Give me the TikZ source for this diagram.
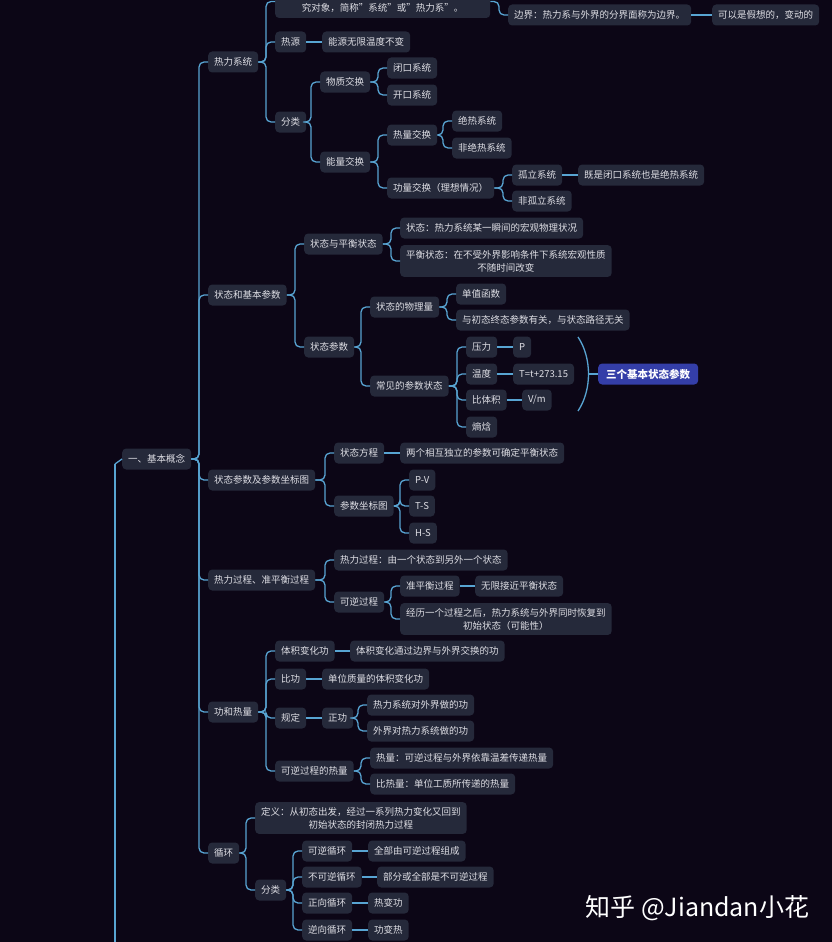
\documentclass[tikz,border=0pt]{standalone}
\usepackage{fontspec}
\setmainfont{Noto Sans CJK SC}
\usepackage{tikz}
\usetikzlibrary{positioning, arrows.meta, calc}
\definecolor{mapbg}{RGB}{12, 6, 22}
\definecolor{mapfill}{RGB}{37, 41, 58}
\definecolor{maptext}{RGB}{222, 222, 228}
\definecolor{mapline}{RGB}{88, 164, 210}
\definecolor{mapblue}{RGB}{52, 62, 168}
\newcommand{\mapfont}{\fontsize{9.5pt}{13pt}\selectfont}
\tikzset{
  topic/.style={
    anchor=west,
    fill=mapfill,
    rounded corners=4pt,
    text=maptext,
    font=\mapfont,
    inner xsep=6pt,
    inner ysep=0pt,
    minimum height=21pt
  },
  twoline/.style={
    align=center,
    inner ysep=5pt
  },
  keytopic/.style={
    topic,
    fill=mapblue,
    text=white,
    font=\fontsize{10.5pt}{13pt}\selectfont\bfseries,
    inner xsep=8pt
  },
  every edge/.style={
    draw=mapline,
    line width=1.3pt,
    rounded corners=5pt
  },
  branch/.style={
    to path={(\tikztostart.east) -| ([xshift=-9pt]\tikztotarget.west) -- (\tikztotarget.west)}
  },
  chain/.style={
    to path={(\tikztostart.east) -- (\tikztotarget.west)}
  }
}

\begin{document}
\begin{tikzpicture}[x=1pt, y=-1pt]
  \useasboundingbox (0,0) rectangle (832,942);
  \clip (0,0) rectangle (832,942);
  \fill[mapbg] (0,0) rectangle (832,942);

  \node[topic] (basic) at (122,459) {一、基本概念};
  \node[topic] (sys) at (208,62) {热力系统};
  \node[topic] (state) at (208,295) {状态和基本参数};
  \node[topic] (chart) at (208,480) {状态参数及参数坐标图};
  \node[topic] (proc) at (208,580) {热力过程、准平衡过程};
  \node[topic] (wq) at (208,712) {功和热量};
  \node[topic] (cyc) at (208,853) {循环};

  \node[topic, anchor=base west, minimum width=215pt, text height=24pt, text depth=3pt, inner ysep=3pt] (sysdef) at (275,12) {究对象，简称"系统"或"热力系"。};
  \node[topic] (bound) at (508,15) {边界：热力系与外界的分界面称为边界。};
  \node[topic] (boundn) at (712,15) {可以是假想的，变动的};
  \node[topic] (src) at (275,42) {热源};
  \node[topic] (srcn) at (322,42) {能源无限温度不变};
  \node[topic] (kind) at (275,122) {分类};
  \node[topic] (mass) at (320,82) {物质交换};
  \node[topic] (closed) at (387,68) {闭口系统};
  \node[topic] (open) at (387,95) {开口系统};
  \node[topic] (energy) at (320,162) {能量交换};
  \node[topic] (heat) at (387,135) {热量交换};
  \node[topic] (adia) at (452,121) {绝热系统};
  \node[topic] (nadia) at (452,148) {非绝热系统};
  \node[topic] (work) at (387,188) {功量交换（理想情况）};
  \node[topic] (iso) at (512,175) {孤立系统};
  \node[topic] (ison) at (578,175) {既是闭口系统也是绝热系统};
  \node[topic] (niso) at (512,201) {非孤立系统};

  \node[topic] (equi) at (304,244) {状态与平衡状态};
  \node[topic] (st) at (400,228) {状态：热力系统某一瞬间的宏观物理状况};
  \node[topic, twoline] (eqst) at (400,261) {平衡状态：在不受外界影响条件下系统宏观性质\\不随时间改变};
  \node[topic] (param) at (304,347) {状态参数};
  \node[topic] (phys) at (370,307) {状态的物理量};
  \node[topic] (single) at (456,294) {单值函数};
  \node[topic] (pathfree) at (456,320) {与初态终态参数有关，与状态路径无关};
  \node[topic] (common) at (370,386) {常见的参数状态};
  \node[topic] (press) at (466,347) {压力};
  \node[topic] (pressv) at (513,347) {P};
  \node[topic] (temp) at (466,374) {温度};
  \node[topic] (tempv) at (513,374) {T=t+273.15};
  \node[topic] (vol) at (466,400) {比体积};
  \node[topic] (volv) at (522,400) {V/m};
  \node[topic] (enth) at (466,427) {熵焓};
  \node[keytopic] (three) at (598,374) {三个基本状态参数};
  \coordinate (bracetip) at (588,374);

  \node[topic] (steq) at (334,453) {状态方程};
  \node[topic] (steqn) at (400,453) {两个相互独立的参数可确定平衡状态};
  \node[topic] (axes) at (334,506) {参数坐标图};
  \node[topic] (pv) at (409,480) {P-V};
  \node[topic] (ts) at (409,506) {T-S};
  \node[topic] (hs) at (409,533) {H-S};

  \node[topic] (tproc) at (334,560) {热力过程：由一个状态到另外一个状态};
  \node[topic] (rev) at (334,602) {可逆过程};
  \node[topic] (quasi) at (400,586) {准平衡过程};
  \node[topic] (quasin) at (475,586) {无限接近平衡状态};
  \node[topic, twoline] (revn) at (400,619) {经历一个过程之后，热力系统与外界同时恢复到\\初始状态（可能性）};

  \node[topic] (volw) at (275,651) {体积变化功};
  \node[topic] (volwn) at (350,651) {体积变化通过边界与外界交换的功};
  \node[topic] (spw) at (275,679) {比功};
  \node[topic] (spwn) at (322,679) {单位质量的体积变化功};
  \node[topic] (rule) at (275,718) {规定};
  \node[topic] (posw) at (322,718) {正功};
  \node[topic] (posa) at (367,705) {热力系统对外界做的功};
  \node[topic] (posb) at (367,731) {外界对热力系统做的功};
  \node[topic] (revq) at (275,771) {可逆过程的热量};
  \node[topic] (revqa) at (370,758) {热量：可逆过程与外界依靠温差传递热量};
  \node[topic] (revqb) at (370,784) {比热量：单位工质所传递的热量};

  \node[topic, twoline] (cdef) at (255,818) {定义：从初态出发，经过一系列热力变化又回到\\初始状态的封闭热力过程};
  \node[topic] (ckind) at (255,890) {分类};
  \node[topic] (cya) at (302,851) {可逆循环};
  \node[topic] (cyan) at (368,851) {全部由可逆过程组成};
  \node[topic] (cyb) at (302,877) {不可逆循环};
  \node[topic] (cybn) at (377,877) {部分或全部是不可逆过程};
  \node[topic] (cyc3) at (302,903) {正向循环};
  \node[topic] (cyc3n) at (368,903) {热变功};
  \node[topic] (cyd) at (302,930) {逆向循环};
  \node[topic] (cydn) at (368,930) {功变热};

  \coordinate (below) at (115,950);
  \node[anchor=west, text=white, font=\fontsize{25pt}{30pt}\selectfont] (mark) at (582,908) {知乎 @Jiandan小花};

  \path (below) edge ([yshift=-5pt]below |- basic.west)
        ([yshift=-5pt]below |- basic.west) edge[rounded corners=0pt] (basic.west);
  \path (basic) edge[branch] (sys) edge[branch] (state) edge[branch] (chart)
                edge[branch] (proc) edge[branch] (wq) edge[branch] (cyc);
  \path (sys) edge[branch] (sysdef) edge[branch] (src) edge[branch] (kind)
        (sysdef) edge[branch] (bound)
        (bound) edge[chain] (boundn)
        (src) edge[chain] (srcn)
        (kind) edge[branch] (mass) edge[branch] (energy)
        (mass) edge[branch] (closed) edge[branch] (open)
        (energy) edge[branch] (heat) edge[branch] (work)
        (heat) edge[branch] (adia) edge[branch] (nadia)
        (work) edge[branch] (iso) edge[branch] (niso)
        (iso) edge[chain] (ison);
  \path (state) edge[branch] (equi) edge[branch] (param)
        (equi) edge[branch] (st) edge[branch] (eqst)
        (param) edge[branch] (phys) edge[branch] (common)
        (phys) edge[branch] (single) edge[branch] (pathfree)
        (common) edge[branch] (press) edge[branch] (temp) edge[branch] (vol) edge[branch] (enth)
        (press) edge[chain] (pressv)
        (temp) edge[chain] (tempv)
        (vol) edge[chain] (volv)
        (bracetip) edge (three);
  \draw[mapline, line width=1.3pt] (578,337) .. controls (592,358) and (592,390) .. (578,411);
  \path (chart) edge[branch] (steq) edge[branch] (axes)
        (steq) edge[chain] (steqn)
        (axes) edge[branch] (pv) edge[branch] (ts) edge[branch] (hs);
  \path (proc) edge[branch] (tproc) edge[branch] (rev)
        (rev) edge[branch] (quasi) edge[branch] (revn)
        (quasi) edge[chain] (quasin);
  \path (wq) edge[branch] (volw) edge[branch] (spw) edge[branch] (rule) edge[branch] (revq)
        (volw) edge[chain] (volwn)
        (spw) edge[chain] (spwn)
        (rule) edge[chain] (posw)
        (posw) edge[branch] (posa) edge[branch] (posb)
        (revq) edge[branch] (revqa) edge[branch] (revqb);
  \path (cyc) edge[branch] (cdef) edge[branch] (ckind)
        (ckind) edge[branch] (cya) edge[branch] (cyb) edge[branch] (cyc3) edge[branch] (cyd)
        (cya) edge[chain] (cyan)
        (cyb) edge[chain] (cybn)
        (cyc3) edge[chain] (cyc3n)
        (cyd) edge[chain] (cydn);
\end{tikzpicture}
\end{document}
